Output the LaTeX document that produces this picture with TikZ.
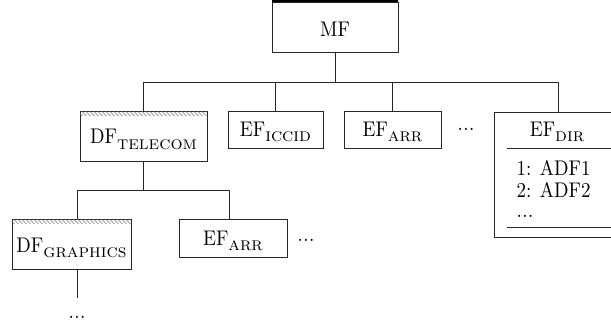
\documentclass[tikz,border=0pt]{standalone}
\usepackage{fontspec}
\usepackage{graphicx}
\begin{document}
\newcommand{\T}[1]{\scalebox{1.9}[2.12]{\fontsize{10}{12}\selectfont\addfontfeature{FakeBold=0.6}#1}}
\newcommand{\Sub}[1]{\raisebox{-0.25em}{\scalebox{1}[0.88]{\textsc{#1}}}}
\newcommand{\Dts}{.\kern0.2pt.\kern0.2pt.}
\begin{tikzpicture}[x=1pt,y=-1pt,
  box/.style 2 args={draw=black!85, line width=0.8pt, minimum width=#1pt, minimum height=#2pt, inner sep=0pt, anchor=center},
  lbl/.style={anchor=base, inner sep=0pt},
  conn/.style={draw=black!85, line width=0.8pt},
  hatch/.style={draw=black!55, line width=0.5pt}]
\useasboundingbox (0,0) rectangle (611,326);

% boxes
\node[box={126}{50}] (mf) at (335,27) {};
\fill[black] (mf.north west) rectangle ([yshift=6pt]mf.north east);
\node[lbl] (mft) at (335,37) {\T{MF}};

\node[box={127}{50}] (tel) at (143.5,136) {};
\node[lbl] (telt) at (143.5,144) {\T{DF\Sub{telecom}}};
\node[box={95}{37}] (iccid) at (275.5,129.5) {};
\node[lbl] (iccidt) at (275.5,136.5) {\T{EF\Sub{iccid}}};
\node[box={97}{37}] (arr1) at (392.5,129.5) {};
\node[lbl] (arr1t) at (392.5,136.5) {\T{EF\Sub{arr}}};
\node[lbl] (dots1) at (466,131) {\T{\Dts}};

\node[box={128}{125}] (dir) at (558,174.5) {};
\node[lbl] (dirt) at (557,136.5) {\T{EF\Sub{dir}}};
\coordinate (sep1) at (507,148);
\coordinate (sep2) at (507,227);
\draw[conn] (sep1) -- (sep1 -| dir.east);
\draw[conn] (sep2) -- (sep2 -| dir.east);
\node[anchor=base west, inner sep=0pt] (l1) at (516.5,176) {\T{1: ADF1}};
\node[anchor=base west, inner sep=0pt] (l2) at (516.5,197) {\T{2: ADF2}};
\node[anchor=base west, inner sep=0pt] (l3) at (516.5,218) {\T{\Dts}};

\node[box={119}{50}] (gra) at (71.5,244) {};
\node[lbl] (grat) at (71.5,252) {\T{DF\Sub{graphics}}};
\node[box={108}{38}] (arr2) at (233,238) {};
\node[lbl] (arr2t) at (233,245) {\T{EF\Sub{arr}}};
\node[lbl] (dots2) at (306,241) {\T{\Dts}};
\node[lbl] (dots3) at (77,318) {\T{\Dts}};

% hatching
\foreach \b in {tel,gra}{
  \begin{scope}
    \clip ([xshift=0.6pt,yshift=-0.6pt]\b.north west) rectangle ([xshift=-0.6pt,yshift=-5pt]\b.north east);
    \foreach \i in {-10,-6,...,140}{
      \draw[hatch] ([xshift=\i pt,yshift=-0.6pt]\b.north west) -- ++(6,6);
    }
  \end{scope}
}

% connectors
\coordinate (bus) at (335,82);
\coordinate (busL) at (143,82);
\coordinate (busR) at (558,82);
\draw[conn] (mf.south) -- (bus);
\draw[conn] (busL) -- (busR);
\draw[conn] (busL) -- (busL |- tel.north);
\draw[conn] (iccid.north) -- (iccid.north |- bus);
\draw[conn] (arr1.north) -- (arr1.north |- bus);
\draw[conn] (busR) -- (busR |- dir.north);

\coordinate (lbus) at (143,190);
\coordinate (lbusL) at (77,190);
\coordinate (lbusR) at (229,190);
\draw[conn] (tel.south -| lbus) -- (lbus);
\draw[conn] (lbusL) -- (lbusR);
\draw[conn] (lbusL) -- (lbusL |- gra.north);
\draw[conn] (lbusR) -- (lbusR |- arr2.north);
\coordinate (gend) at (77,298);
\draw[conn] (gra.south -| gend) -- (gend);
\end{tikzpicture}
\end{document}
